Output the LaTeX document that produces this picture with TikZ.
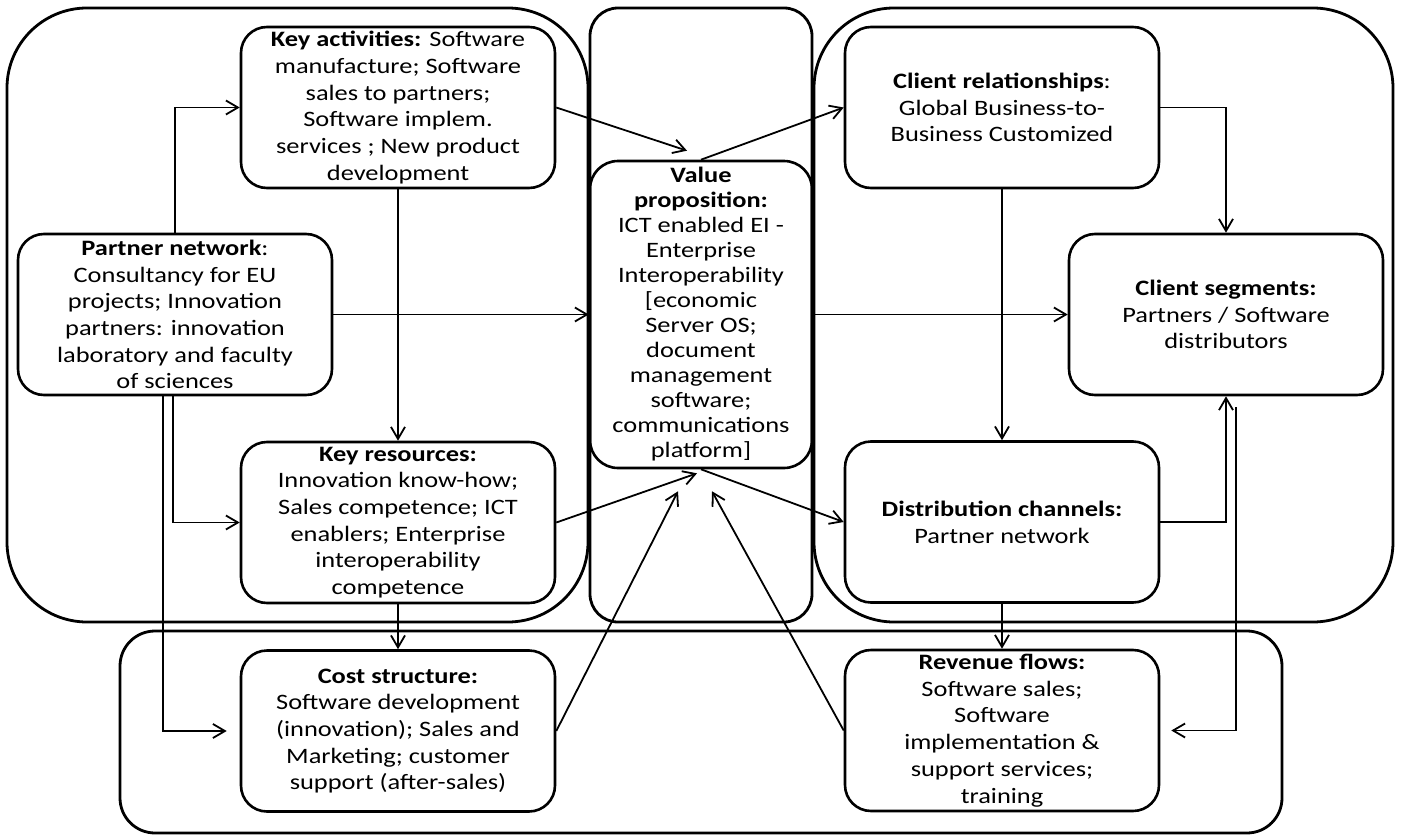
\documentclass[tikz,border=0pt]{standalone}
\usepackage{fontspec}
\setmainfont{Carlito}[FakeStretch=1.2]
\usetikzlibrary{arrows.meta,calc}

\tikzset{every picture/.style={line width=0.75pt}}

\begin{document}
\begin{tikzpicture}[x=1pt,y=1pt,yscale=-1,xscale=1,
    box/.style={draw, rounded corners=26pt, line width=2.6pt, align=center, inner sep=0pt,
      minimum width=314pt, minimum height=161pt, font=\fontsize{22}{26.7}\selectfont},
    frame/.style={draw, line width=2.8pt},
    arr/.style={line width=1.8pt, -{Straight Barb[length=12pt,width=14pt]}}]
    \useasboundingbox (0,0) rectangle (1401,835);

    %Shape: Frames
    \draw [frame, rounded corners=80pt] (7,8) rectangle (588,622);
    \draw [frame, rounded corners=28pt] (590,8) rectangle (812,622);
    \draw [frame, rounded corners=80pt] (814,8) rectangle (1393,622);
    \draw [frame, rounded corners=35pt] (120,631) rectangle (1282,833);

    % Text Node
    \node [box] (ka) at (398,107.5) {\textbf{Key activities:} Software\\manufacture; Software\\sales to partners;\\Software implem.\\services ; New product\\development};
    % Text Node
    \node [box] (pn) at (175,314.5) {\textbf{Partner network}:\\Consultancy for EU\\projects; Innovation\\partners: innovation\\laboratory and faculty\\of sciences};
    % Text Node
    \node [box] (kr) at (398,522.5) {\textbf{Key resources:}\\Innovation know-how;\\Sales competence; ICT\\enablers; Enterprise\\interoperability\\competence};
    % Text Node
    \node [box] (cost) at (398,731) {\textbf{Cost structure:}\\Software development\\(innovation); Sales and\\Marketing; customer\\support (after-sales)};
    % Text Node
    \node [box, minimum width=222pt, minimum height=307pt, rounded corners=28pt, font=\fontsize{22}{25}\selectfont] (vp) at (701,314.5) {\textbf{Value}\\\textbf{proposition:}\\ICT enabled EI -\\Enterprise\\Interoperability\\{[}economic\\Server OS;\\document\\management\\software;\\communications\\platform]};
    % Text Node
    \node [box] (cr) at (1002,107.5) {\textbf{Client relationships}:\\Global Business-to-\\Business Customized};
    % Text Node
    \node [box] (cs) at (1226,314.5) {\textbf{Client segments:}\\Partners / Software\\distributors};
    % Text Node
    \node [box] (dc) at (1002,522) {\textbf{Distribution channels:}\\Partner network};
    % Text Node
    \node [box] (rf) at (1002,730.5) {\textbf{Revenue flows:}\\Software sales;\\Software\\implementation \&\\support services;\\training};

    %Free ends below and above the value proposition
    \coordinate (vpA) at ($(vp.north)+(-14,-9)$);
    \coordinate (vpB) at ($(vp.south)+(-4,4)$);
    \coordinate (vpC) at ($(vp.south)+(-23,22)$);
    \coordinate (vpD) at ($(vp.south)+(11,22)$);

    %Straight Lines
    \draw [arr] (pn.north) |- (ka.west);
    \draw [arr] (ka.east) -- (vpA);
    \draw [arr] (vp.north) -- (cr.west);
    \draw [arr] (ka.south) -- (kr.north);
    \draw [arr] (kr.south) -- (cost.north);
    \draw [arr] (pn.east) -- (vp.west);
    \draw [arr] (vp.east) -- (cs.west);
    \draw [arr] ($(pn.south)+(-2,0)$) |- (kr.west);
    \draw [arr, shorten >=13pt] ($(pn.south)+(-12,0)$) |- (cost.west);
    \draw [arr] (kr.east) -- (vpB);
    \draw [arr] (cost.east) -- (vpC);
    \draw [arr] (rf.west) -- (vpD);
    \draw [arr] (vp.south) -- (dc.west);
    \draw [arr] (cr.south) -- (dc.north);
    \draw [arr] (dc.south) -- (rf.north);
    \draw [arr] (cr.east) -| (cs.north);
    \draw [arr] (dc.east) -| (cs.south);
    \draw [arr, shorten >=11pt] ($(cs.south)+(10,11)$) |- (rf.east);

\end{tikzpicture}
\end{document}
